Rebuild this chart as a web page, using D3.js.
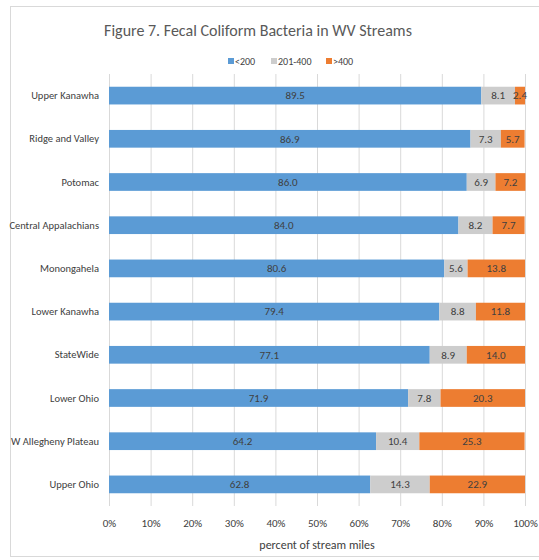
<!DOCTYPE html>
<html>
<head>
<meta charset="utf-8">
<script src="https://cdn.jsdelivr.net/npm/d3@7"></script>
<style>
  body { margin: 0; background: #fff; }
  svg text { font-family: Carlito, "Liberation Sans Narrow", "DejaVu Sans Condensed", "Liberation Sans", sans-serif; }
</style>
</head>
<body>
<div id="chart"></div>
<script>
// regions, top to bottom
var regions = ["Upper Kanawha", "Ridge and Valley", "Potomac", "Central Appalachians",
  "Monongahela", "Lower Kanawha", "StateWide", "Lower Ohio", "W Allegheny Plateau", "Upper Ohio"];
var low  = [89.5, 86.9, 86.0, 84.0, 80.6, 79.4, 77.1, 71.9, 64.2, 62.8];   // <200
var mid  = [8.1, 7.3, 6.9, 8.2, 5.6, 8.8, 8.9, 7.8, 10.4, 14.3];           // 201-400
var high = [2.4, 5.7, 7.2, 7.7, 13.8, 11.8, 14.0, 20.3, 25.3, 22.9];       // >400
var seriesNames = ["<200", "201-400", ">400"];
var colors = ["#5b9bd5", "#cdcdcd", "#ed7d31"];
var xTicks = [0, 10, 20, 30, 40, 50, 60, 70, 80, 90, 100];

var width = 539, height = 560;

var svg = d3.select("#chart").append("svg")
    .attr("width", width)
    .attr("height", height);

// chart border
svg.append("rect")
    .attr("x", 10.5).attr("y", 6.5)
    .attr("width", 540).attr("height", 550)
    .style("fill", "#fff")
    .style("stroke", "#d9d9d9");

var x = d3.scaleLinear().domain([0, 100]).range([109, 525]);
var y = d3.scaleBand().domain(regions).range([74, 506]).paddingInner(0.59).paddingOuter(0.295);

// gridlines
svg.append("g").selectAll("line")
    .data(xTicks)
    .join("line")
    .attr("x1", d => x(d) + 0.5).attr("x2", d => x(d) + 0.5)
    .attr("y1", 74).attr("y2", 506)
    .style("stroke", "#d9d9d9");

// stack the data
var table = regions.map(function(r, i) {
  return { region: r, "<200": low[i], "201-400": mid[i], ">400": high[i] };
});
var stacked = d3.stack().keys(seriesNames)(table);

var layers = svg.append("g").selectAll("g")
    .data(stacked)
    .join("g")
    .style("fill", (d, i) => colors[i]);

layers.selectAll("rect")
    .data(d => d)
    .join("rect")
    .attr("x", d => x(d[0]))
    .attr("y", d => y(d.data.region))
    .attr("width", d => x(d[1]) - x(d[0]))
    .attr("height", y.bandwidth());

// value labels
layers.selectAll("text")
    .data((d, i) => d.map(v => ({ v: v, key: d.key })))
    .join("text")
    .attr("x", d => (x(d.v[0]) + x(d.v[1])) / 2)
    .attr("y", d => y(d.v.data.region) + y.bandwidth() / 2)
    .attr("dy", "0.35em")
    .attr("text-anchor", "middle")
    .style("fill", "#404040")
    .style("font-size", "11px")
    .text(d => d.v.data[d.key].toFixed(1));

// category labels
svg.append("g").selectAll("text")
    .data(regions)
    .join("text")
    .attr("x", 99)
    .attr("y", d => y(d) + y.bandwidth() / 2)
    .attr("dy", "0.35em")
    .attr("text-anchor", "end")
    .style("fill", "#404040")
    .style("font-size", "10.5px")
    .text(d => d);

// x axis tick labels
var xAxis = d3.axisBottom(x).tickValues(xTicks).tickSize(0).tickPadding(0).tickFormat(d => d + "%");
var gx = svg.append("g")
    .attr("transform", "translate(0,519)")
    .call(xAxis);
gx.select(".domain").remove();
gx.selectAll("text")
    .style("fill", "#404040")
    .style("font-size", "11px")
    .style("font-family", null);

svg.append("text")
    .attr("x", 317).attr("y", 549)
    .attr("text-anchor", "middle")
    .style("fill", "#404040")
    .style("font-size", "12px")
    .text("percent of stream miles");

// title
svg.append("text")
    .attr("x", 258).attr("y", 36)
    .attr("text-anchor", "middle")
    .style("fill", "#595959")
    .style("font-size", "16px")
    .text("Figure 7. Fecal Coliform Bacteria in WV Streams");

// legend
var legendX = [228, 271, 326];
var legend = svg.append("g").selectAll("g")
    .data(seriesNames)
    .join("g")
    .attr("transform", (d, i) => "translate(" + legendX[i] + ",58)");
legend.append("rect")
    .attr("width", 6).attr("height", 6)
    .style("fill", (d, i) => colors[i]);
legend.append("text")
    .attr("x", 7).attr("y", 3)
    .attr("dy", "0.35em")
    .style("fill", "#404040")
    .style("font-size", "10px")
    .text(d => d);
</script>
</body>
</html>
